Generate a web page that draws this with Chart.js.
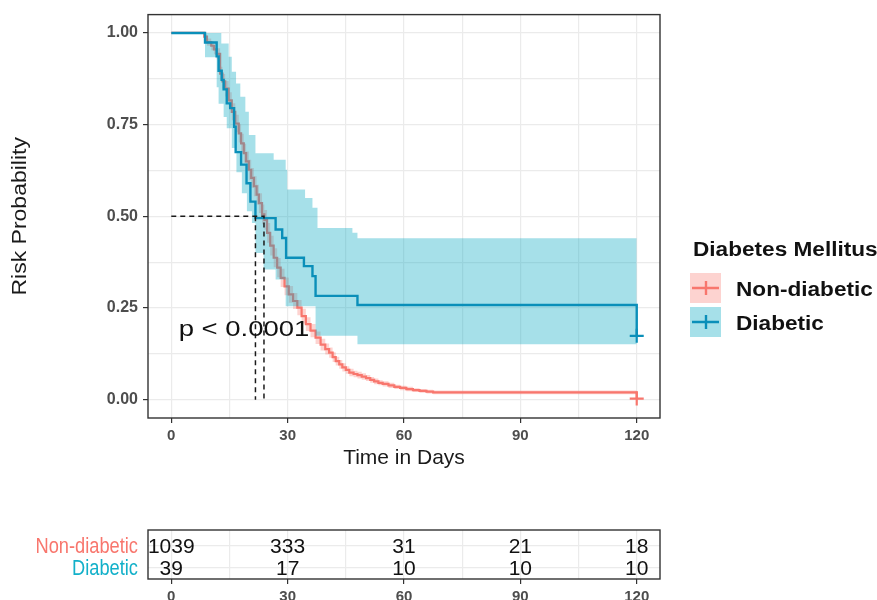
<!DOCTYPE html>
<html>
<head>
<meta charset="utf-8">
<title>Risk Probability by Diabetes Mellitus</title>
<script src="https://cdn.jsdelivr.net/npm/chart.js@4.4.1/dist/chart.umd.min.js"></script>
<style>
  html, body { margin: 0; padding: 0; background: #fff; }
  #wrap { position: relative; width: 877px; height: 600px; overflow: hidden; }
  #km { position: absolute; left: 0; top: 0; }
  #risk { position: absolute; left: 0; top: 480px; }
</style>
</head>
<body>
<div id="wrap">
  <canvas id="km" width="877" height="480"></canvas>
  <canvas id="risk" width="877" height="120"></canvas>
</div>
<script>
  const FONT = "'Liberation Sans', Arial, Helvetica, sans-serif";
  const GRID = "#ebebeb";
  const TICK = "#333333";
  const TICK_TEXT = "#4d4d4d";

  const groups = ["Non-diabetic", "Diabetic"];
  const lineColors = ["#f8766d", "#0a8fb9"];
  const bandColors = ["rgba(248, 118, 109, 0.32)", "rgba(0, 165, 192, 0.35)"];
  const tableColors = ["#f8766d", "#12b0c9"];
  const legendTitle = "Diabetes Mellitus";
  const xTitle = "Time in Days";
  const yTitle = "Risk Probability";
  const pValueText = "p < 0.0001";

  const xBreaks = [0, 30, 60, 90, 120];
  const yBreaks = [0, 0.25, 0.5, 0.75, 1];
  const yLabels = ["0.00", "0.25", "0.50", "0.75", "1.00"];

  // Non-diabetic curve and its confidence band
  const nonTime = [0, 8.5, 9.2, 10.3, 11.0, 11.7, 12.6, 13.2, 13.9, 14.8, 15.6, 16.5, 17.4, 18.0, 18.7, 19.3,
    20.0, 20.6, 21.3, 22.0, 22.6, 23.4, 24.0, 24.7, 25.5, 26.4, 27.3, 28.2, 29.2, 30.3, 31.4, 32.5, 33.6,
    34.7, 35.9, 37.2, 38.5, 39.7, 40.7, 41.6, 42.4, 43.3, 44.1, 45.0, 45.9, 47.0, 48.0, 49.1, 50.2, 51.3,
    52.3, 53.4, 54.5, 56.0, 57.5, 59.0, 60.6, 62.3, 64.0, 65.8, 67.5, 120];
  const nonSurv = [1, 0.99, 0.975, 0.965, 0.955, 0.943, 0.889, 0.868, 0.848, 0.816, 0.785, 0.753, 0.726, 0.699,
    0.672, 0.65, 0.627, 0.605, 0.582, 0.559, 0.536, 0.505, 0.49, 0.455, 0.42, 0.387, 0.36, 0.332, 0.309, 0.287,
    0.269, 0.251, 0.228, 0.206, 0.188, 0.169, 0.15, 0.138, 0.128, 0.116, 0.105, 0.096, 0.088, 0.081, 0.074,
    0.07, 0.067, 0.063, 0.059, 0.054, 0.05, 0.046, 0.043, 0.039, 0.035, 0.032, 0.029, 0.026, 0.024, 0.022,
    0.02, 0.003];
  const nonUpper = [1, 0.996, 0.985, 0.977, 0.968, 0.958, 0.908, 0.888, 0.869, 0.838, 0.808, 0.777, 0.751, 0.725,
    0.698, 0.677, 0.654, 0.632, 0.609, 0.586, 0.563, 0.532, 0.517, 0.482, 0.447, 0.413, 0.386, 0.357, 0.333,
    0.31, 0.291, 0.272, 0.248, 0.225, 0.206, 0.186, 0.166, 0.153, 0.142, 0.129, 0.117, 0.108, 0.099, 0.091,
    0.084, 0.079, 0.076, 0.072, 0.067, 0.062, 0.058, 0.053, 0.05, 0.046, 0.041, 0.038, 0.035, 0.031, 0.029,
    0.027, 0.025, 0.007];
  const nonLower = [1, 0.984, 0.965, 0.953, 0.942, 0.928, 0.87, 0.848, 0.827, 0.794, 0.762, 0.729, 0.701, 0.673,
    0.646, 0.623, 0.6, 0.578, 0.555, 0.532, 0.509, 0.478, 0.463, 0.428, 0.393, 0.361, 0.334, 0.307, 0.285,
    0.264, 0.247, 0.23, 0.208, 0.187, 0.17, 0.152, 0.134, 0.123, 0.114, 0.103, 0.093, 0.084, 0.077, 0.071,
    0.064, 0.061, 0.058, 0.054, 0.051, 0.046, 0.042, 0.039, 0.036, 0.032, 0.029, 0.026, 0.023, 0.021, 0.019,
    0.017, 0.015, 0];

  // Diabetic curve and its confidence band
  const diaTime = [0, 8.7, 11.7, 12.2, 13.0, 13.5, 14.3, 15.2, 16.2, 16.6, 18.0, 19.4, 20.4, 21.7, 26.9, 28.6,
    29.6, 34.2, 36.4, 37.2, 48.0, 120];
  const diaSurv = [1, 0.974, 0.936, 0.897, 0.872, 0.846, 0.808, 0.795, 0.744, 0.675, 0.641, 0.59, 0.54, 0.495,
    0.464, 0.441, 0.387, 0.364, 0.337, 0.283, 0.258, 0.174];
  const diaUpTime = [0, 12.9, 14.8, 15.6, 16.7, 17.8, 19.1, 20.0, 21.7, 26.4, 29.5, 29.9, 34.5, 36.4, 37.7,
    46.7, 48.0, 120];
  const diaUpper = [1, 0.971, 0.935, 0.894, 0.862, 0.826, 0.785, 0.722, 0.672, 0.654, 0.627, 0.573, 0.55, 0.523,
    0.468, 0.455, 0.44, 0.44];
  const diaLoTime = [0, 8.7, 11.7, 12.2, 13.5, 14.3, 15.6, 16.8, 18.2, 19.5, 20.8, 21.7, 23.8, 26.9, 29.5,
    37.2, 48.0, 120];
  const diaLower = [1, 0.934, 0.852, 0.807, 0.771, 0.74, 0.686, 0.62, 0.563, 0.514, 0.482, 0.4, 0.355, 0.328,
    0.255, 0.174, 0.151, 0.151];

  const censorTimes = [120, 120];
  const censorSurv = [0.003, 0.174];
  const medianTimes = [23.9, 21.7];
  const pValuePos = [1.9, 0.19];

  const riskTimes = [0, 30, 60, 90, 120];
  const riskNon = [1039, 333, 31, 21, 18];
  const riskDia = [39, 17, 10, 10, 10];

  function toPoints(xs, ys) {
    return xs.map((x, i) => ({ x, y: ys[i] }));
  }

  function withMinor(breaks) {
    const out = [];
    breaks.forEach((b, i) => {
      out.push(b);
      if (i < breaks.length - 1) out.push((b + breaks[i + 1]) / 2);
    });
    return out;
  }

  function isMajor(breaks, value) {
    return breaks.some((b) => Math.abs(b - value) < 1e-9);
  }

  function timeAxis(height) {
    return {
      type: "linear",
      min: -6,
      max: 126,
      afterBuildTicks(axis) {
        axis.ticks = withMinor(xBreaks).map((v) => ({ value: v }));
      },
      afterFit(axis) {
        axis.height = height;
      },
      border: { display: false },
      grid: {
        color: GRID,
        lineWidth: 1.2,
        tickLength: 5,
        tickWidth: 1.2,
        tickColor: (ctx) => (ctx.tick && isMajor(xBreaks, ctx.tick.value) ? TICK : "rgba(0,0,0,0)"),
      },
      ticks: {
        autoSkip: false,
        maxRotation: 0,
        padding: 4,
        color: TICK_TEXT,
        font: { family: FONT, size: 15, weight: "bold" },
        callback: (v) => (isMajor(xBreaks, v) ? String(v) : ""),
      },
    };
  }

  function drawStretched(ctx, text, x, y, sx) {
    ctx.save();
    ctx.translate(x, y);
    ctx.scale(sx, 1);
    ctx.fillText(text, 0, 0);
    ctx.restore();
  }

  function drawPanel(chart) {
    const { ctx, chartArea: a } = chart;
    ctx.save();
    ctx.strokeStyle = "#333";
    ctx.lineWidth = 1.4;
    ctx.strokeRect(a.left, a.top, a.right - a.left, a.bottom - a.top);
    ctx.restore();
  }

  function drawLegend(ctx) {
    ctx.save();
    ctx.fillStyle = "#111";
    ctx.textBaseline = "middle";
    ctx.textAlign = "left";
    ctx.font = `bold 20px ${FONT}`;
    drawStretched(ctx, legendTitle, 693, 250, 1.13);

    groups.forEach((name, i) => {
      const top = 273 + i * 34;
      const cx = 706;
      const cy = top + 15;
      ctx.fillStyle = bandColors[i];
      ctx.fillRect(690, top, 31, 30);
      ctx.strokeStyle = lineColors[i];
      ctx.lineWidth = 2.4;
      ctx.beginPath();
      ctx.moveTo(692, cy);
      ctx.lineTo(719, cy);
      ctx.moveTo(cx, cy - 7);
      ctx.lineTo(cx, cy + 7);
      ctx.stroke();
      ctx.fillStyle = "#111";
      drawStretched(ctx, name, 736, cy + 2, 1.13);
    });
    ctx.restore();
  }

  const kmDecor = {
    id: "kmDecor",
    afterDatasetsDraw(chart) {
      const { ctx, scales } = chart;
      ctx.save();
      ctx.fillStyle = "#111";
      ctx.textAlign = "left";
      ctx.textBaseline = "middle";
      ctx.font = `22px ${FONT}`;
      drawStretched(ctx, pValueText, scales.x.getPixelForValue(pValuePos[0]),
        scales.y.getPixelForValue(pValuePos[1]), 1.25);
      ctx.restore();
    },
    afterDraw(chart) {
      const { ctx, chartArea: a } = chart;
      drawPanel(chart);

      ctx.save();
      ctx.fillStyle = "#1a1a1a";
      ctx.textAlign = "center";
      ctx.textBaseline = "middle";
      ctx.font = `21px ${FONT}`;
      ctx.fillText(xTitle, (a.left + a.right) / 2, 458);

      ctx.font = `20px ${FONT}`;
      ctx.translate(20, (a.top + a.bottom) / 2);
      ctx.rotate(-Math.PI / 2);
      ctx.scale(1.15, 1);
      ctx.fillText(yTitle, 0, 0);
      ctx.restore();

      drawLegend(ctx);
    },
  };

  const stepLine = { stepped: true, pointRadius: 0, pointHoverRadius: 0, fill: false };

  new Chart(document.getElementById("km"), {
    type: "line",
    data: {
      datasets: [
        {
          label: "median",
          data: [
            { x: 0, y: 0.5 }, { x: medianTimes[0], y: 0.5 }, { x: medianTimes[0], y: 0 },
            { x: medianTimes[0], y: null },
            { x: medianTimes[1], y: 0.5 }, { x: medianTimes[1], y: 0 },
          ],
          borderColor: "#1a1a1a",
          borderWidth: 1.5,
          borderDash: [5, 4],
          pointRadius: 0,
          spanGaps: false,
          order: 0,
        },
        ...groups.map((name, i) => ({
          label: name + " censor",
          data: [{ x: censorTimes[i], y: censorSurv[i] }],
          showLine: false,
          pointStyle: "cross",
          pointRadius: 7,
          borderWidth: 2.2,
          borderColor: lineColors[i],
          order: 1,
        })),
        {
          ...stepLine,
          label: groups[1],
          data: toPoints(diaTime, diaSurv),
          borderColor: lineColors[1],
          borderWidth: 2.4,
          order: 2,
        },
        {
          ...stepLine,
          label: "dia upper",
          data: toPoints(diaUpTime, diaUpper),
          borderWidth: 0,
          borderColor: "rgba(0,0,0,0)",
          order: 3,
        },
        {
          ...stepLine,
          label: "dia lower",
          data: toPoints(diaLoTime, diaLower),
          borderWidth: 0,
          borderColor: "rgba(0,0,0,0)",
          backgroundColor: bandColors[1],
          fill: "-1",
          order: 3,
        },
        {
          ...stepLine,
          label: groups[0],
          data: toPoints(nonTime, nonSurv),
          borderColor: lineColors[0],
          borderWidth: 2.2,
          order: 4,
        },
        {
          ...stepLine,
          label: "non upper",
          data: toPoints(nonTime, nonUpper),
          borderWidth: 0,
          borderColor: "rgba(0,0,0,0)",
          order: 5,
        },
        {
          ...stepLine,
          label: "non lower",
          data: toPoints(nonTime, nonLower),
          borderWidth: 0,
          borderColor: "rgba(0,0,0,0)",
          backgroundColor: bandColors[0],
          fill: "-1",
          order: 5,
        },
      ],
    },
    options: {
      responsive: false,
      animation: false,
      layout: { padding: { top: 12, right: 217, bottom: 0, left: 0 } },
      plugins: { legend: { display: false }, tooltip: { enabled: false } },
      scales: {
        x: timeAxis(62),
        y: {
          type: "linear",
          min: -0.05,
          max: 1.05,
          afterBuildTicks(axis) {
            axis.ticks = withMinor(yBreaks).map((v) => ({ value: v }));
          },
          afterFit(axis) {
            axis.width = 148;
          },
          border: { display: false },
          grid: {
            color: GRID,
            lineWidth: 1.2,
            tickLength: 5,
            tickWidth: 1.2,
            tickColor: (ctx) => (ctx.tick && isMajor(yBreaks, ctx.tick.value) ? TICK : "rgba(0,0,0,0)"),
          },
          ticks: {
            autoSkip: false,
            padding: 5,
            color: TICK_TEXT,
            font: { family: FONT, size: 16, weight: "bold" },
            callback: (v) => {
              const idx = yBreaks.findIndex((b) => Math.abs(b - v) < 1e-9);
              return idx >= 0 ? yLabels[idx] : "";
            },
          },
        },
      },
    },
    plugins: [kmDecor],
  });

  const riskCounts = [riskNon, riskDia];

  const riskDecor = {
    id: "riskDecor",
    afterDatasetsDraw(chart) {
      const ctx = chart.ctx;
      const yScale = chart.scales.y;
      ctx.save();
      ctx.textBaseline = "middle";

      // row labels, condensed like the reference
      ctx.textAlign = "right";
      ctx.font = `22px ${FONT}`;
      groups.forEach((name, i) => {
        ctx.fillStyle = tableColors[i];
        drawStretched(ctx, name, 138, yScale.getPixelForValue(i + 1) + 1, 0.83);
      });

      ctx.fillStyle = "#111";
      ctx.textAlign = "center";
      ctx.font = `21px ${FONT}`;
      riskCounts.forEach((counts, i) => {
        chart.getDatasetMeta(i).data.forEach((pt, j) => {
          ctx.fillText(String(counts[j]), pt.x, pt.y + 1);
        });
      });
      ctx.restore();
    },
    afterDraw(chart) {
      drawPanel(chart);
    },
  };

  new Chart(document.getElementById("risk"), {
    type: "line",
    data: {
      datasets: riskCounts.map((counts, row) => ({
        label: groups[row],
        data: riskTimes.map((t) => ({ x: t, y: row + 1 })),
        showLine: false,
        pointRadius: 0,
      })),
    },
    options: {
      responsive: false,
      animation: false,
      layout: { padding: { top: 50, right: 217, bottom: 0, left: 0 } },
      plugins: { legend: { display: false }, tooltip: { enabled: false } },
      scales: {
        x: timeAxis(21),
        y: {
          type: "linear",
          min: 0.26,
          max: 2.52,
          reverse: true,
          afterBuildTicks(axis) {
            axis.ticks = groups.map((g, i) => ({ value: i + 1 }));
          },
          afterFit(axis) {
            axis.width = 148;
          },
          border: { display: false },
          grid: { color: GRID, lineWidth: 1.2, drawTicks: false },
          ticks: { display: false },
        },
      },
    },
    plugins: [riskDecor],
  });
</script>
</body>
</html>
